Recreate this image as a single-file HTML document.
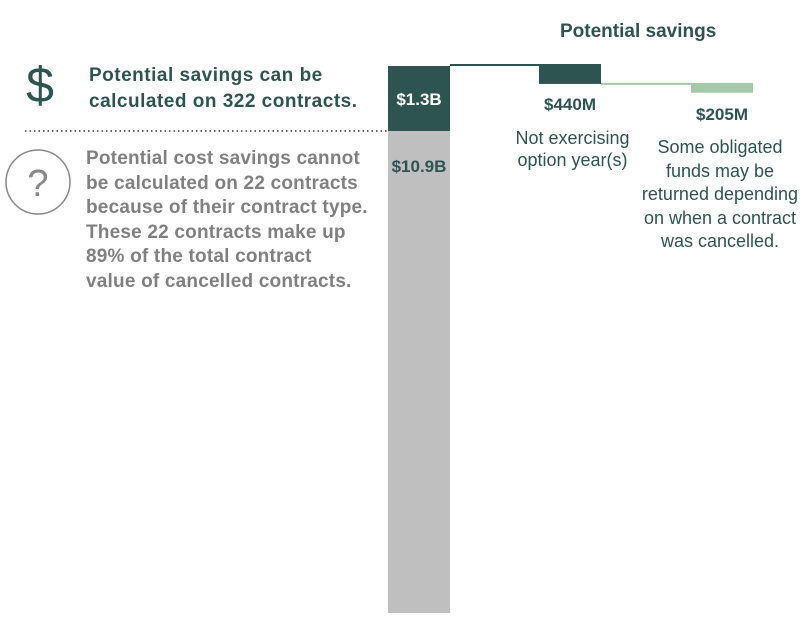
<!DOCTYPE html>
<html><head><meta charset="utf-8"><style>
body{margin:0;width:810px;height:622px;background:#fff;font-family:"Liberation Sans",sans-serif;position:relative;overflow:hidden}
.t{position:absolute;white-space:nowrap}
</style></head><body>
<svg width="810" height="622" style="position:absolute;left:0;top:0">
<g id="marks"></g>
<line x1="25" y1="131" x2="388" y2="131" stroke="#333" stroke-width="1.5" stroke-dasharray="1.5,3"/>
<text x="40" y="102" font-family="Liberation Sans,sans-serif" font-size="50" font-weight="300" fill="#2e5450" text-anchor="middle" transform="scale(1,1)">$</text>
<circle cx="38" cy="182" r="32" fill="none" stroke="#888" stroke-width="1.5"/>
<text x="38" y="196" font-family="Liberation Sans,sans-serif" font-size="38" fill="#888" text-anchor="middle">?</text>
</svg>
<div class="t" style="left:560px;top:21px;font-size:19px;font-weight:bold;color:#2e5450">Potential savings</div>
<div class="t" style="left:89px;top:63px;font-size:19px;letter-spacing:0.5px;font-weight:bold;color:#2e5450;line-height:26px">Potential savings can be<br>calculated on 322 contracts.</div>
<div class="t" style="left:86px;top:147px;font-size:19px;letter-spacing:0.2px;font-weight:bold;color:#808080;line-height:24.5px">Potential cost savings cannot<br>be calculated on 22 contracts<br>because of their contract type.<br>These 22 contracts make up<br>89% of the total contract<br>value of cancelled contracts.</div>
<div class="t" style="left:388px;width:62px;text-align:center;top:90px;font-size:17px;font-weight:bold;color:#fff">$1.3B</div>
<div class="t" style="left:386px;width:66px;text-align:center;top:157px;font-size:17px;font-weight:bold;color:#2e5450">$10.9B</div>
<div class="t" style="left:520px;width:100px;text-align:center;top:95px;font-size:17px;font-weight:bold;color:#2e5450">$440M</div>
<div class="t" style="left:500px;width:145px;text-align:center;top:127px;font-size:18px;color:#2e5450;line-height:22px">Not exercising<br>option year(s)</div>
<div class="t" style="left:672px;width:100px;text-align:center;top:105px;font-size:17px;font-weight:bold;color:#2e5450">$205M</div>
<div class="t" style="left:628px;width:184px;text-align:center;top:136px;font-size:18px;color:#2e5450;line-height:23.5px">Some obligated<br>funds may be<br>returned depending<br>on when a contract<br>was cancelled.</div>
<script>
const stackLabels=["calculable","noncalculable"];
const stackValues=[1.3,10.9];
const savingsLabels=["option-years","obligated-funds"];
const savingsValues=[0.44,0.205];
const top0=66,base=613;
// top (calculable) segment and savings use one scale; the non-calculable segment fills remaining height proportionally
const kTop=50;
const kBottom=(base-top0-stackValues[0]*kTop)/stackValues[1];
const scales=[kTop,kBottom];
const g=document.getElementById('marks');
const NS="http://www.w3.org/2000/svg";
function rect(x,y1,w,h,fill){const r=document.createElementNS(NS,'rect');r.setAttribute('x',x);r.setAttribute('y',y1);r.setAttribute('width',w);r.setAttribute('height',h);r.setAttribute('fill',fill);g.appendChild(r);return r;}
function line(x1,x2,yy,c,w){const l=document.createElementNS(NS,'line');l.setAttribute('x1',x1);l.setAttribute('x2',x2);l.setAttribute('y1',yy);l.setAttribute('y2',yy);l.setAttribute('stroke',c);l.setAttribute('stroke-width',w);g.appendChild(l);return l;}
let yCur=top0;const stackColors=["#2e5450","#bfbfbf"];
stackValues.forEach((v,i)=>{const h=v*scales[i];const r=rect(388,yCur,62,h,stackColors[i]);


yCur+=h;});
function ys(v){return 65+v*43;}
const xs=[539,691],cols=["#2e5450","#a3c9a8"];let c2=0;let prevX=450;
savingsValues.forEach((v,i)=>{const yy=ys(c2);
const l=line(prevX,xs[i],yy,cols[i],2);


const r=rect(xs[i],yy-1,62,Math.max(ys(c2+v)-yy,2)+1,cols[i]);


c2+=v;prevX=xs[i]+62;});
</script>
</body></html>
